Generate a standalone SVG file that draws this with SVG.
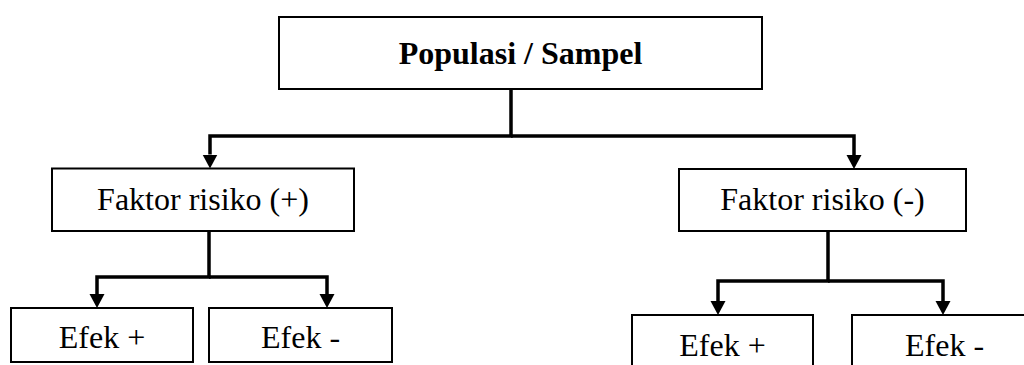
<svg xmlns="http://www.w3.org/2000/svg" width="1024" height="365" viewBox="0 0 1024 365">
  <style>
    .box { fill: #ffffff; stroke: #000000; stroke-width: 2; }
    .lbl { font-family: 'Times New Roman', 'Liberation Serif', serif; font-size: 32px; fill: #000000; text-anchor: middle; }
    .bold { font-weight: bold; }
    .conn { fill: none; stroke: #000000; stroke-width: 3.5; stroke-linejoin: miter; stroke-linecap: butt; }
  </style>
  <defs>
    <marker id="arrow" markerUnits="userSpaceOnUse" viewBox="0 -8 14 16" refX="0" refY="0" markerWidth="14" markerHeight="16" orient="auto">
      <path d="M0,-7.5 L14,0 L0,7.5 z" fill="#000000"/>
    </marker>
  </defs>

  <rect width="1024" height="365" fill="#ffffff"/>

  <!-- connectors: trunk lines with downward arrows into each child box -->
  <g id="connectors">
    <path class="conn" d="M511,89 V136 H210 V154.5" marker-end="url(#arrow)"/>
    <path class="conn" d="M511,136 H854 V155" marker-end="url(#arrow)"/>
    <path class="conn" d="M209,231 V277 H97 V294" marker-end="url(#arrow)"/>
    <path class="conn" d="M209,277 H327 V294" marker-end="url(#arrow)"/>
    <path class="conn" d="M828,231 V281 H718 V301" marker-end="url(#arrow)"/>
    <path class="conn" d="M828,281 H943 V301" marker-end="url(#arrow)"/>
  </g>

  <g id="populasi">
    <rect class="box" x="279" y="17" width="483" height="72"/>
    <text class="lbl bold" x="520.5" y="64">Populasi / Sampel</text>
  </g>

  <g id="faktor-plus">
    <rect class="box" x="52" y="168.5" width="302" height="62.5"/>
    <text class="lbl" x="203" y="210">Faktor risiko (+)</text>
  </g>

  <g id="faktor-minus">
    <rect class="box" x="679" y="169" width="287" height="62"/>
    <text class="lbl" x="822.5" y="210">Faktor risiko (-)</text>
  </g>

  <g id="plus-efek-plus">
    <rect class="box" x="11" y="308" width="182" height="54"/>
    <text class="lbl" x="102" y="348">Efek +</text>
  </g>

  <g id="plus-efek-minus">
    <rect class="box" x="209" y="308" width="183" height="54"/>
    <text class="lbl" x="300.5" y="348">Efek -</text>
  </g>

  <g id="minus-efek-plus">
    <rect class="box" x="632" y="315" width="181" height="60"/>
    <text class="lbl" x="722.5" y="356">Efek +</text>
  </g>

  <g id="minus-efek-minus">
    <rect class="box" x="852" y="315" width="185" height="60"/>
    <text class="lbl" x="944.5" y="356">Efek -</text>
  </g>
</svg>
